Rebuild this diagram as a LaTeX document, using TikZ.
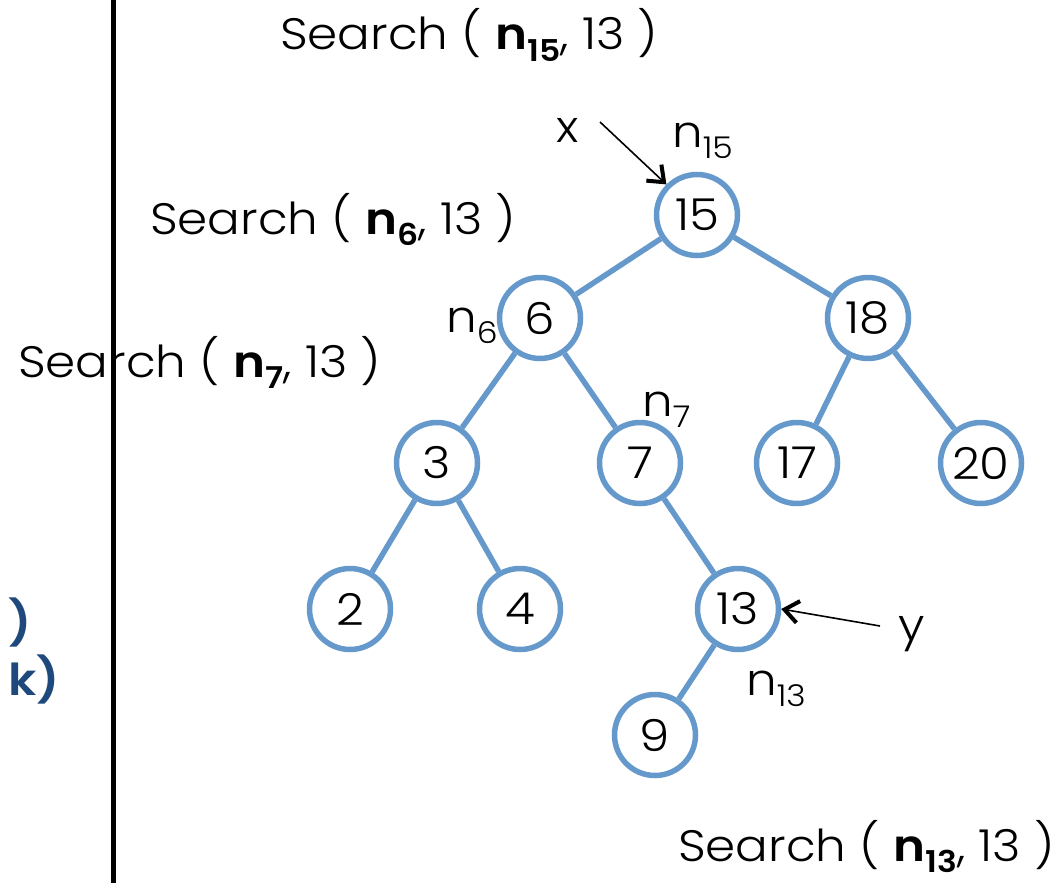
\documentclass[tikz,border=0pt]{standalone}
\usepackage{fontspec}
\setmainfont{Poppins}[UprightFont=* Light, BoldFont=* SemiBold, FakeStretch=1.1]
\usetikzlibrary{arrows.meta}
\definecolor{treeblue}{RGB}{101,152,203}
\definecolor{capblue}{RGB}{31,73,125}
\newcommand\lbl{\fontsize{44}{52}\selectfont}
\newcommand\sbx[1]{\raisebox{-0.26em}{\fontsize{30}{34}\selectfont #1}}
\tikzset{
  tnode/.style={circle, draw=treeblue, line width=5.5pt, fill=white,
    minimum size=81pt, inner sep=0pt, font=\lbl},
  tedge/.style={draw=treeblue, line width=5.5pt},
  txt/.style={anchor=base west, inner sep=0pt, font=\lbl},
  ptr/.style={draw=black, line width=1.6pt,
    -{Straight Barb[length=14pt, width=22pt, line width=4pt]}},
}
\begin{document}
\begin{tikzpicture}[x=1pt, y=-1pt]
\useasboundingbox (0,0) rectangle (1057,883);

% the tree
\node[tnode] (n15) at (697,215) {15};
\node[tnode] (n6)  at (540,318) {6};
\node[tnode] (n18) at (868,318) {18};
\node[tnode] (n3)  at (437,463) {3};
\node[tnode] (n7)  at (640,463) {7};
\node[tnode] (n17) at (797,463) {17};
\node[tnode] (n20) at (981,463) {20};
\node[tnode] (n2)  at (350,609) {2};
\node[tnode] (n4)  at (520,609) {4};
\node[tnode] (n13) at (738,609) {13};
\node[tnode] (n9)  at (655,735) {9};

\path[tedge] (n15) -- (n6);
\path[tedge] (n15) -- (n18);
\path[tedge] (n6) -- (n3);
\path[tedge] (n6) -- (n7);
\path[tedge] (n18) -- (n17);
\path[tedge] (n18) -- (n20);
\path[tedge] (n3) -- (n2);
\path[tedge] (n3) -- (n4);
\path[tedge] (n7) -- (n13);
\path[tedge] (n13) -- (n9);

% node names
\node[txt] (l15) at (672,147) {n\sbx{15}};
\node[txt] (l6)  at (446,332) {n\sbx{6}};
\node[txt] (l7)  at (642,416) {n\sbx{7}};
\node[txt] (l13) at (746,695) {n\sbx{13}};

% pointers
\node[txt] (px) at (556,142) {x};
\node[txt] (py) at (898,640) {y};
\coordinate (xtail) at (600,122);
\coordinate (ytail) at (880,626);
\draw[ptr] (xtail) -- (n15.north west);
\draw[ptr] (ytail) -- (n13.east);

% recursive calls
\node[txt] (s15) at (280,50)  {Search ( \textbf{n\sbx{15}}, 13 )};
\node[txt] (s6)  at (150,234) {Search ( \textbf{n\sbx{6}}, 13 )};
\node[txt] (s7)  at (18,377)  {Search ( \textbf{n\sbx{7}}, 13 )};
\node[txt] (s13) at (678,861) {Search ( \textbf{n\sbx{13}}, 13 )};

% clipped text at the left edge
\node[txt, text=capblue, font=\lbl\bfseries] (c1) at (8,638) {)};
\node[txt, text=capblue, font=\lbl\bfseries] (c2) at (8,695) {k)};

% divider
\coordinate (dtop) at (113,0);
\coordinate (dbot) at (113,883);
\draw[line width=5pt] (dtop) -- (dbot);
\end{tikzpicture}
\end{document}
